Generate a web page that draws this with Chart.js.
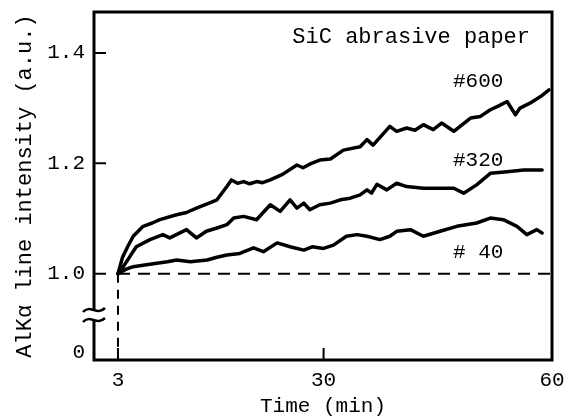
<!DOCTYPE html>
<html>
<head>
<meta charset="utf-8">
<script src="https://cdn.jsdelivr.net/npm/chart.js@4/dist/chart.umd.min.js"></script>
<style>
  html, body { margin: 0; padding: 0; background: #fff; }
</style>
</head>
<body>
<canvas id="chart" width="567" height="419"></canvas>
<script>
// time (min) and relative AlKa intensity
const time600 = [3, 3.6, 4.3, 5.0, 6.3, 7.5, 8.5, 10.7, 12.0, 13.3, 14.8, 16.0, 17.3, 17.9, 18.7, 19.5, 20.3, 21.2, 22.0, 23.0, 24.6, 26.5, 27.3, 28.4, 29.5, 30.9, 32.6, 34.8, 35.7, 36.5, 38.7, 39.6, 40.9, 42.0, 43.1, 44.4, 45.5, 47.1, 49.3, 50.6, 51.9, 53.0, 54.1, 55.2, 55.8, 57.1, 58.5, 59.6];
const int600 = [1.0, 1.03, 1.05, 1.068, 1.086, 1.092, 1.098, 1.107, 1.111, 1.119, 1.127, 1.134, 1.158, 1.170, 1.164, 1.167, 1.163, 1.167, 1.165, 1.170, 1.180, 1.197, 1.192, 1.200, 1.206, 1.208, 1.224, 1.230, 1.243, 1.233, 1.267, 1.258, 1.264, 1.260, 1.270, 1.261, 1.273, 1.258, 1.282, 1.285, 1.297, 1.304, 1.312, 1.288, 1.300, 1.309, 1.321, 1.333];

const time320 = [3, 3.7, 5.4, 7.2, 8.9, 9.8, 12.0, 13.3, 14.6, 16.0, 17.3, 18.2, 19.5, 21.2, 23.0, 24.3, 25.6, 26.5, 27.4, 28.2, 29.5, 30.9, 32.2, 33.5, 34.8, 35.7, 36.3, 37.0, 38.3, 39.6, 40.9, 43.1, 45.3, 47.1, 48.4, 50.1, 51.9, 54.1, 56.3, 58.7];
const int320 = [1.0, 1.013, 1.049, 1.062, 1.071, 1.065, 1.080, 1.065, 1.077, 1.083, 1.089, 1.101, 1.104, 1.098, 1.125, 1.113, 1.134, 1.119, 1.128, 1.116, 1.125, 1.128, 1.134, 1.137, 1.143, 1.152, 1.146, 1.162, 1.152, 1.164, 1.158, 1.155, 1.155, 1.155, 1.146, 1.161, 1.182, 1.185, 1.188, 1.188];

const time40 = [3, 4.0, 5.0, 6.5, 8.1, 9.5, 10.7, 12.5, 14.7, 16.0, 17.3, 19.0, 20.8, 22.1, 23.9, 25.6, 27.4, 28.5, 30.0, 31.3, 33.0, 34.4, 35.7, 37.4, 38.7, 39.6, 41.4, 43.1, 45.3, 47.5, 50.1, 51.9, 53.6, 55.4, 56.7, 58.0, 58.7];
const int40 = [1.0, 1.008, 1.013, 1.016, 1.019, 1.022, 1.025, 1.022, 1.025, 1.030, 1.034, 1.037, 1.047, 1.040, 1.056, 1.049, 1.043, 1.049, 1.046, 1.052, 1.068, 1.071, 1.068, 1.062, 1.068, 1.077, 1.080, 1.068, 1.077, 1.086, 1.092, 1.101, 1.098, 1.086, 1.071, 1.080, 1.074];

const xTicks = [3, 30, 60];
const yTicks = [1.0, 1.2, 1.4];
const yZeroPos = 0.857;   // where the broken-axis "0" sits
const seriesLabels = ["#600", "#320", "# 40"];
const labelPos = [[47.0, 1.348], [47.0, 1.206], [47.0, 1.038]];
const boxTitle = "SiC abrasive paper";

const FONT = "'Liberation Mono', 'DejaVu Sans Mono', monospace";
Chart.defaults.color = "#000";
Chart.defaults.font.family = FONT;

const toPts = (t, v) => t.map((x, i) => ({ x: x, y: v[i] }));
const line = (lbl, t, v) => ({
  label: lbl,
  data: toPts(t, v),
  borderColor: "#000",
  borderWidth: 3.5,
  pointRadius: 0,
  tension: 0,
  borderJoinStyle: "round",
  borderCapStyle: "round",
});

// no extra room for edge labels, keep the plot box fixed
const noPad = s => { s.paddingTop = 0; s.paddingBottom = 0; s.paddingLeft = 0; s.paddingRight = 0; };

const decor = {
  id: "decor",
  beforeDatasetsDraw(chart) {
    const { ctx, scales: { x, y }, chartArea: a } = chart;
    const x0 = x.getPixelForValue(3), y1 = y.getPixelForValue(1.0);
    ctx.save();
    ctx.strokeStyle = "#000";
    ctx.lineWidth = 2;
    ctx.setLineDash([12, 8]);
    ctx.beginPath();
    ctx.moveTo(x0, y1);
    ctx.lineTo(x.getPixelForValue(60), y1);
    ctx.stroke();
    ctx.setLineDash([9, 7]);
    ctx.beginPath();
    ctx.moveTo(x0, y1);
    ctx.lineTo(x0, a.bottom);
    ctx.stroke();
    ctx.restore();
  },
  afterDraw(chart) {
    const { ctx, scales: { x, y }, chartArea: a } = chart;
    ctx.save();
    ctx.strokeStyle = "#000";
    ctx.lineWidth = 3;
    ctx.strokeRect(a.left, a.top, a.right - a.left, a.bottom - a.top);
    // inward tick marks
    ctx.lineWidth = 2;
    ctx.beginPath();
    yTicks.forEach(v => {
      const p = y.getPixelForValue(v);
      ctx.moveTo(a.left, p);
      ctx.lineTo(a.left + 12, p);
    });
    xTicks.forEach(v => {
      const p = x.getPixelForValue(v);
      ctx.moveTo(p, a.bottom);
      ctx.lineTo(p, a.bottom - 12);
    });
    ctx.stroke();
    // axis break
    const b1 = a.bottom - 50, b2 = a.bottom - 40;
    ctx.fillStyle = "#fff";
    ctx.fillRect(a.left - 3, b1, 6, b2 - b1);
    ctx.lineWidth = 2.5;
    [b1, b2].forEach(yc => {
      ctx.beginPath();
      ctx.moveTo(a.left - 11, yc + 2);
      ctx.bezierCurveTo(a.left - 4, yc - 6, a.left + 3, yc + 6, a.left + 11, yc - 2);
      ctx.stroke();
    });
    // labels
    ctx.fillStyle = "#000";
    ctx.font = "21px " + FONT;
    ctx.textBaseline = "middle";
    ctx.textAlign = "left";
    seriesLabels.forEach((s, i) => {
      ctx.fillText(s, x.getPixelForValue(labelPos[i][0]), y.getPixelForValue(labelPos[i][1]));
    });
    ctx.font = "22px " + FONT;
    ctx.fillText(boxTitle, x.getPixelForValue(25.9), y.getPixelForValue(1.429));
    ctx.restore();
  },
};

new Chart(document.getElementById("chart"), {
  type: "line",
  data: {
    datasets: [
      line("#600", time600, int600),
      line("#320", time320, int320),
      line("# 40", time40, int40),
    ],
  },
  options: {
    responsive: false,
    animation: false,
    layout: { padding: { top: 12, right: 15, left: 0, bottom: 0 } },
    plugins: { legend: { display: false }, tooltip: { enabled: false } },
    scales: {
      x: {
        type: "linear",
        min: -0.15,
        max: 60,
        grid: { display: false, drawTicks: false },
        border: { display: false },
        afterBuildTicks: s => { s.ticks = xTicks.map(v => ({ value: v })); },
        afterFit: s => { s.height = 59; noPad(s); },
        ticks: { font: { size: 21 }, padding: 8, maxRotation: 0, autoSkip: false },
        title: {
          display: true,
          text: "Time (min)",
          font: { size: 21, lineHeight: 1.2 },
          padding: { top: 0, bottom: 0 },
        },
      },
      y: {
        type: "linear",
        min: 0.844,
        max: 1.474,
        grid: { display: false, drawTicks: false },
        border: { display: false },
        afterBuildTicks: s => { s.ticks = [{ value: yZeroPos }].concat(yTicks.map(v => ({ value: v }))); },
        afterFit: s => { s.width = 94; noPad(s); },
        ticks: {
          font: { size: 21 },
          padding: 9,
          autoSkip: false,
          callback: v => (v === yZeroPos ? "0" : v.toFixed(1)),
        },
        title: {
          display: true,
          text: "AlKα line intensity (a.u.)",
          font: { size: 22, lineHeight: 1.2 },
          padding: { top: 12, bottom: 0 },
        },
      },
    },
  },
  plugins: [decor],
});
</script>
</body>
</html>
